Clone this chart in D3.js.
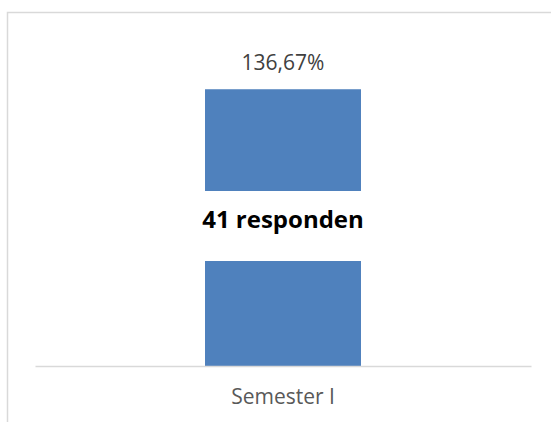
<!DOCTYPE html>
<html lang="en">
<head>
<meta charset="utf-8">
<script src="https://cdn.jsdelivr.net/npm/d3@7"></script>
<style>
  body { margin: 0; background: #fff; }
  text { font-family: "Open Sans", "Noto Sans", sans-serif; }
</style>
</head>
<body>
<div id="chart"></div>
<script>
// data
const categories = ["Semester I"];
const percentValues = [136.67];
const respondents = [41];

const W = 551, H = 422;
const plot = {left: 35, right: 531, top: 42, bottom: 366};

const svg = d3.select("#chart").append("svg")
  .attr("width", W).attr("height", H);

// chart frame (cropped on the right and bottom)
svg.append("path")
  .attr("d", `M7.5,${H + 5} V12.5 H${W + 5}`)
  .attr("fill", "none")
  .attr("stroke", "#d9d9d9")
  .attr("stroke-width", 1.5);

const x = d3.scaleBand()
  .domain(categories)
  .range([plot.left, plot.right])
  .paddingInner(0)
  .paddingOuter(1.09);

const y = d3.scaleLinear()
  .domain([0, 160])
  .range([plot.bottom, plot.top]);

// bars
svg.selectAll("rect.bar")
  .data(categories)
  .join("rect")
  .attr("class", "bar")
  .attr("x", d => x(d))
  .attr("width", x.bandwidth())
  .attr("y", (d, i) => y(percentValues[i]))
  .attr("height", (d, i) => y(0) - y(percentValues[i]))
  .attr("fill", "#4f81bd");

// x axis
const xAxis = svg.append("g")
  .attr("transform", `translate(0,${plot.bottom})`)
  .call(d3.axisBottom(x).tickSize(0).tickPadding(23));
xAxis.select(".domain").attr("stroke", "#d9d9d9").attr("stroke-width", 1.5);
xAxis.selectAll("text")
  .attr("font-size", 21)
  .attr("fill", "#595959")
  .style("font-family", "Open Sans");

// value labels
svg.selectAll("text.val")
  .data(categories)
  .join("text")
  .attr("class", "val")
  .attr("x", d => x(d) + x.bandwidth() / 2)
  .attr("y", (d, i) => y(percentValues[i]) - 19)
  .attr("text-anchor", "middle")
  .attr("font-size", 21)
  .attr("fill", "#404040")
  .text((d, i) => percentValues[i].toFixed(2).replace(".", ",") + "%");

// respondent label with white box over the bar
const lab = svg.selectAll("g.resp")
  .data(categories)
  .join("g")
  .attr("class", "resp");
lab.append("rect")
  .attr("x", d => x(d) - 2)
  .attr("width", x.bandwidth() + 4)
  .attr("y", 191)
  .attr("height", 70)
  .attr("fill", "#fff");
lab.append("text")
  .attr("x", d => x(d) + x.bandwidth() / 2)
  .attr("y", 228)
  .attr("text-anchor", "middle")
  .attr("font-size", 24)
  .attr("font-weight", "bold")
  .attr("fill", "#000")
  .text((d, i) => respondents[i] + " responden");
</script>
</body>
</html>
